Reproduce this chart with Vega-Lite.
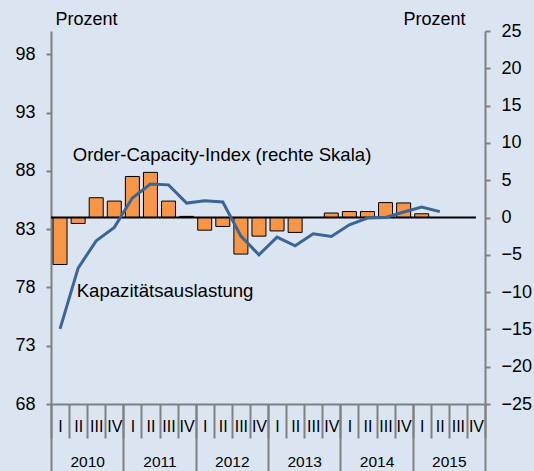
{
  "$schema": "https://vega.github.io/schema/vega-lite/v6.json",
  "width": 434,
  "height": 373,
  "autosize": "none",
  "padding": {"left": 51, "top": 31, "right": 49, "bottom": 67},
  "background": "#dbe5f1",
  "config": {
    "view": {"stroke": null},
    "font": "Liberation Sans",
    "axis": {
      "domainColor": "#808080",
      "tickColor": "#808080",
      "domainWidth": 2,
      "tickWidth": 2,
      "labelColor": "#000000",
      "labelFontSize": 18,
      "labelFont": "Liberation Sans",
      "grid": false,
      "titleColor": "#000000",
      "titleFontWeight": "normal",
      "titleFontSize": 18,
      "titleFont": "Liberation Sans",
      "labelOverlap": false,
      "labelFlush": false
    }
  },
  "datasets": {
    "q": [
      {"t": 2010.125, "oci": -6.3, "cap": 74.44},
      {"t": 2010.375, "oci": -0.8, "cap": 79.66},
      {"t": 2010.625, "oci": 2.65, "cap": 82.0},
      {"t": 2010.875, "oci": 2.2, "cap": 83.15},
      {"t": 2011.125, "oci": 5.5, "cap": 85.67},
      {"t": 2011.375, "oci": 6.05, "cap": 86.87},
      {"t": 2011.625, "oci": 2.2, "cap": 86.8},
      {"t": 2011.875, "oci": 0.15, "cap": 85.24},
      {"t": 2012.125, "oci": -1.7, "cap": 85.44},
      {"t": 2012.375, "oci": -1.2, "cap": 85.33},
      {"t": 2012.625, "oci": -4.9, "cap": 82.4},
      {"t": 2012.875, "oci": -2.5, "cap": 80.8},
      {"t": 2013.125, "oci": -1.8, "cap": 82.32},
      {"t": 2013.375, "oci": -2.0, "cap": 81.57},
      {"t": 2013.625, "oci": 0, "cap": 82.6},
      {"t": 2013.875, "oci": 0.6, "cap": 82.37},
      {"t": 2014.125, "oci": 0.8, "cap": 83.38},
      {"t": 2014.375, "oci": 0.8, "cap": 83.95},
      {"t": 2014.625, "oci": 2.0, "cap": 84.0},
      {"t": 2014.875, "oci": 1.95, "cap": 84.47},
      {"t": 2015.125, "oci": 0.5, "cap": 84.9},
      {"t": 2015.375, "oci": null, "cap": 84.5}
    ],
    "zero": [{"x0": 2010, "x1": 2015.875, "v": 0}],
    "ann": [
      {"label": "Order-Capacity-Index (rechte Skala)", "t": 2010.3, "v": 7.6},
      {"label": "Kapazitätsauslastung", "t": 2010.355, "v": -10.6}
    ]
  },
  "resolve": {"scale": {"y": "independent"}, "axis": {"x": "independent", "y": "independent"}},
  "layer": [
    {
      "data": {"name": "q"},
      "mark": {"type": "bar", "size": 14, "fill": "#f79646", "stroke": "#000000", "strokeWidth": 1},
      "encoding": {
        "x": {
          "field": "t", "type": "quantitative",
          "scale": {"domain": [2010, 2016], "nice": false, "zero": false, "padding": 0},
          "axis": {
            "orient": "bottom", "title": null, "labels": false,
            "values": [2010, 2010.25, 2010.5, 2010.75, 2011, 2011.25, 2011.5, 2011.75, 2012, 2012.25, 2012.5, 2012.75, 2013, 2013.25, 2013.5, 2013.75, 2014, 2014.25, 2014.5, 2014.75, 2015, 2015.25, 2015.5, 2015.75, 2016],
            "tickSize": 34
          }
        },
        "y": {
          "field": "oci", "type": "quantitative",
          "scale": {"domain": [-25, 25], "nice": false},
          "axis": {
            "orient": "right", "values": [-25, -20, -15, -10, -5, 0, 5, 10, 15, 20, 25],
            "tickSize": 5, "labelPadding": 11,
            "title": "Prozent", "titleAngle": 0, "titleX": -20, "titleY": -7,
            "titleAlign": "right", "titleBaseline": "alphabetic"
          }
        }
      }
    },
    {
      "data": {"name": "zero"},
      "mark": {"type": "rule", "color": "#000000", "strokeWidth": 2},
      "encoding": {
        "x": {
          "field": "x0", "type": "quantitative",
          "scale": {"domain": [2010, 2016], "nice": false, "zero": false, "padding": 0},
          "axis": {
            "orient": "bottom", "title": null, "labels": false, "domain": false,
            "values": [2010, 2011, 2012, 2013, 2014, 2015, 2016],
            "tickSize": 68
          }
        },
        "x2": {"field": "x1"},
        "y": {"field": "v", "type": "quantitative", "scale": {"domain": [-25, 25], "nice": false}, "axis": null}
      }
    },
    {
      "data": {"name": "q"},
      "mark": {"type": "line", "color": "#3b6597", "strokeWidth": 3},
      "encoding": {
        "x": {
          "field": "t", "type": "quantitative",
          "scale": {"domain": [2010, 2016], "nice": false, "zero": false, "padding": 0},
          "axis": {
            "orient": "bottom", "title": null, "domain": false, "ticks": false, "tickSize": 0,
            "values": [2010.125, 2010.375, 2010.625, 2010.875, 2011.125, 2011.375, 2011.625, 2011.875, 2012.125, 2012.375, 2012.625, 2012.875, 2013.125, 2013.375, 2013.625, 2013.875, 2014.125, 2014.375, 2014.625, 2014.875, 2015.125, 2015.375, 2015.625, 2015.875],
            "labelExpr": "['I','II','III','IV'][floor((datum.value - floor(datum.value)) * 4)]",
            "labelFontSize": 16, "labelBaseline": "middle", "labelAlign": "center", "labelPadding": 22
          }
        },
        "y": {
          "field": "cap", "type": "quantitative",
          "scale": {"domain": [68, 100], "nice": false, "zero": false},
          "axis": {
            "orient": "left", "values": [68, 73, 78, 83, 88, 93, 98],
            "tickSize": 5, "labelPadding": 11,
            "title": "Prozent", "titleAngle": 0, "titleX": 4, "titleY": -7,
            "titleAlign": "left", "titleBaseline": "alphabetic"
          }
        }
      }
    },
    {
      "data": {"name": "ann"},
      "mark": {"type": "text", "align": "left", "baseline": "alphabetic", "fontSize": 18.6, "color": "#000000"},
      "encoding": {
        "x": {
          "field": "t", "type": "quantitative",
          "scale": {"domain": [2010, 2016], "nice": false, "zero": false, "padding": 0},
          "axis": {
            "orient": "bottom", "title": null, "domain": false, "ticks": false, "tickSize": 0,
            "values": [2010.5, 2011.5, 2012.5, 2013.5, 2014.5, 2015.5],
            "labelExpr": "floor(datum.value)",
            "labelFontSize": 15.5, "labelBaseline": "middle", "labelAlign": "center", "labelPadding": 57
          }
        },
        "y": {"field": "v", "type": "quantitative", "scale": {"domain": [-25, 25], "nice": false}, "axis": null},
        "text": {"field": "label"}
      }
    }
  ]
}
